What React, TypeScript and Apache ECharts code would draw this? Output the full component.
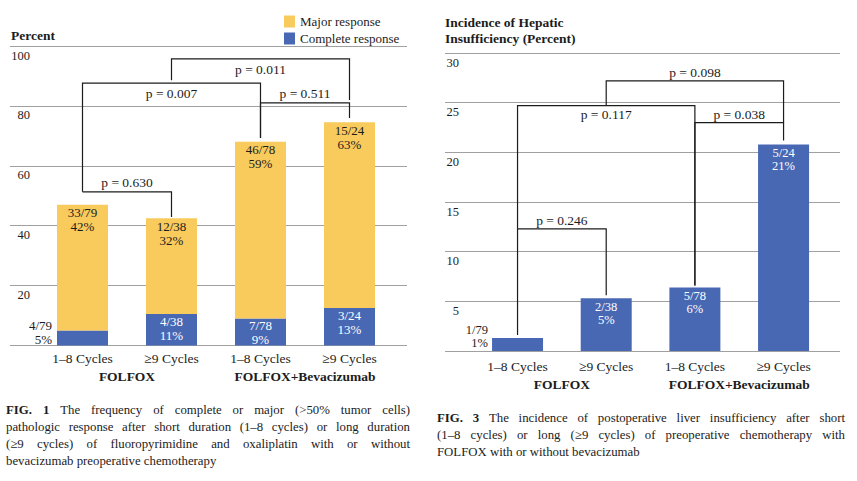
import React, { useEffect, useRef } from 'react';
import * as echarts from 'echarts';

// ---------- data ----------
const categories = ['1–8 Cycles', '≥9 Cycles', '1–8 Cycles', '≥9 Cycles'];
const groups = ['FOLFOX', 'FOLFOX+Bevacizumab'];

// FIG. 1 – pathologic response (percent)
const fig1Ticks = [0, 20, 40, 60, 80, 100];
const completeResponse = [5, 10.5, 9, 12.5];
const majorResponse = [42, 32, 59, 62];
const completeLabels = ['4/79\n5%', '4/38\n11%', '7/78\n9%', '3/24\n13%'];
const majorLabels = ['33/79\n42%', '12/38\n32%', '46/78\n59%', '15/24\n63%'];
// brackets: [fromIdx, toIdx, topValue, leftEndValue, rightEndValue, textValue]
const fig1Brackets = [
  [0, 1, 51.3, 51.3, 42.9, 54.3],
  [0, 2, 87.6, 51.3, 69.3, 84.3],
  [1, 3, 95.7, 88.6, 82.0, 92.3],
  [2, 3, 81.0, 69.3, 76.0, 84.3],
];
const fig1PValues = ['p = 0.630', 'p = 0.007', 'p = 0.011', 'p = 0.511'];

// FIG. 3 – hepatic insufficiency (percent)
const fig3Ticks = [0, 5, 10, 15, 20, 25, 30];
const hepaticInsufficiency = [1.3, 5.3, 6.4, 20.8];
const hepaticLabels = ['1/79\n1%', '2/38\n5%', '5/78\n6%', '5/24\n21%'];
const fig3Brackets = [
  [0, 1, 12.3, 1.6, 5.6, 13.1],
  [0, 2, 24.7, 12.3, 6.6, 23.8],
  [1, 3, 27.2, 24.7, 23.0, 28.0],
  [2, 3, 23.0, 6.6, 21.2, 23.8],
];
const fig3PValues = ['p = 0.246', 'p = 0.117', 'p = 0.098', 'p = 0.038'];

const fig1Caption = [
  'FIG. 1 The frequency of complete or major (>50% tumor cells)',
  'pathologic response after short duration (1–8 cycles) or long duration',
  '(≥9 cycles) of fluoropyrimidine and oxaliplatin with or without',
  'bevacizumab preoperative chemotherapy',
];
const fig3Caption = [
  'FIG. 3 The incidence of postoperative liver insufficiency after short',
  '(1–8 cycles) or long (≥9 cycles) of preoperative chemotherapy with',
  'FOLFOX with or without bevacizumab',
];

// ---------- style ----------
const SERIF = '"Liberation Serif", "Times New Roman", serif';
const YELLOW = '#F9CA5C';
const BLUE = '#4868B4';
const INK = '#1c1c1c';
const GRIDC = '#a0a0a0';

function captionElements(lines: string[], x0: number, x1: number, y0: number, step: number, fontSize: number) {
  const canvas = document.createElement('canvas');
  const ctx = canvas.getContext('2d') as CanvasRenderingContext2D;
  const els: any[] = [];
  lines.forEach((line, li) => {
    const words = line.split(' ');
    const fonts = words.map((_, wi) => (li === 0 && wi < 2 ? 'bold' : 'normal'));
    const widths = words.map((w, wi) => {
      ctx.font = `${fonts[wi]} ${fontSize}px ${SERIF}`;
      return ctx.measureText(w).width;
    });
    ctx.font = `normal ${fontSize}px ${SERIF}`;
    const spaceW = ctx.measureText(' ').width;
    const last = li === lines.length - 1;
    const total = widths.reduce((a, b) => a + b, 0);
    let gap = spaceW;
    if (!last && words.length > 1) {
      gap = Math.max(2, (x1 - x0 - total) / (words.length - 1));
    }
    let x = x0;
    words.forEach((w, wi) => {
      els.push({
        type: 'text',
        x,
        y: y0 + li * step,
        silent: true,
        style: {
          text: w,
          fontSize,
          fontFamily: SERIF,
          fontWeight: fonts[wi],
          fill: INK,
          verticalAlign: 'middle',
          textVerticalAlign: 'middle',
        },
      });
      x += widths[wi] + gap;
    });
  });
  return els;
}

function bracketRenderer(labels: string[], fontSize: number) {
  return (params: any, api: any) => {
    const from = api.value(0);
    const to = api.value(1);
    const a = api.coord([from, api.value(3)]);
    const b = api.coord([from, api.value(2)]);
    const c = api.coord([to, api.value(2)]);
    const d = api.coord([to, api.value(4)]);
    const ty = api.coord([from, api.value(5)])[1];
    return {
      type: 'group',
      children: [
        {
          type: 'polyline',
          shape: { points: [a, b, c, d] },
          style: { stroke: INK, lineWidth: 1.2, fill: 'none' },
        },
        {
          type: 'text',
          x: (b[0] + c[0]) / 2,
          y: ty,
          style: {
            text: labels[params.dataIndex],
            fontSize,
            fontFamily: SERIF,
            fill: INK,
            align: 'center',
            verticalAlign: 'middle',
            textAlign: 'center',
            textVerticalAlign: 'middle',
          },
        },
      ],
    };
  };
}

export default function App() {
  const ref = useRef<HTMLDivElement>(null);

  useEffect(() => {
    if (!ref.current) return;
    const chart = echarts.init(ref.current, undefined, { renderer: 'svg' });

    const f1min = fig1Ticks[0];
    const f1max = fig1Ticks[fig1Ticks.length - 1];
    const f1int = fig1Ticks[1] - fig1Ticks[0];
    const f3min = fig3Ticks[0];
    const f3max = fig3Ticks[fig3Ticks.length - 1];
    const f3int = fig3Ticks[1] - fig3Ticks[0];

    const tickLabel = (margin: number) => ({
      inside: true,
      margin,
      align: 'right',
      verticalAlign: 'top',
      padding: [3, 0, 0, 0],
      fontSize: 12.5,
      fontFamily: SERIF,
      color: INK,
      showMinLabel: false,
      formatter: (v: number) => (v === 0 ? '' : String(v)),
    });

    const catAxis = (gridIndex: number, data: string[], margin: number, bold: boolean, size: number) => ({
      gridIndex,
      type: 'category',
      data,
      position: 'bottom',
      axisLine: { show: false },
      axisTick: { show: false },
      splitLine: { show: false },
      axisLabel: {
        margin,
        fontSize: size,
        fontFamily: SERIF,
        fontWeight: bold ? 'bold' : 'normal',
        color: INK,
        interval: 0,
      },
    });

    const barLabelBase = (color: string, size: number, lh: number, distance: number) => ({
      show: true,
      position: 'insideTop',
      distance,
      color,
      fontSize: size,
      lineHeight: lh,
      fontFamily: SERIF,
    });

    const option: any = {
      animation: false,
      backgroundColor: '#ffffff',
      title: [
        {
          text: 'Percent',
          left: 11,
          top: 28,
          padding: 0,
          textStyle: { fontFamily: SERIF, fontSize: 13.5, fontWeight: 'bold', color: INK },
        },
        {
          text: 'Incidence of Hepatic\nInsufficiency (Percent)',
          left: 445,
          top: 15,
          padding: 0,
          textStyle: { fontFamily: SERIF, fontSize: 13.5, fontWeight: 'bold', color: INK, lineHeight: 15.5 },
        },
      ],
      legend: {
        data: ['Major response', 'Complete response'],
        orient: 'vertical',
        left: 284,
        top: 15,
        padding: 0,
        itemWidth: 11,
        itemHeight: 12,
        itemGap: 4,
        icon: 'rect',
        selectedMode: false,
        textStyle: { fontFamily: SERIF, fontSize: 13, color: INK },
      },
      grid: [
        { left: 10, top: 46, width: 397, height: 299.5 },
        { left: 38, top: 46, width: 356, height: 299.5 },
        { left: 445, top: 53, width: 395, height: 298 },
        { left: 473.2, top: 53, width: 354.7, height: 298 },
      ],
      xAxis: [
        { gridIndex: 0, type: 'value', show: false },
        catAxis(1, categories, 6, false, 13.5),
        catAxis(1, groups, 24, true, 13.5),
        { gridIndex: 2, type: 'value', show: false },
        catAxis(3, categories, 8.5, false, 13.5),
        catAxis(3, groups, 26, true, 13.5),
      ],
      yAxis: [
        {
          gridIndex: 0,
          type: 'value',
          min: f1min,
          max: f1max,
          interval: f1int,
          axisLine: { show: false },
          axisTick: { show: false },
          splitLine: { show: true, lineStyle: { color: GRIDC, width: 1 } },
          axisLabel: tickLabel(20),
        },
        { gridIndex: 1, type: 'value', min: f1min, max: f1max, interval: f1int, show: false },
        {
          gridIndex: 2,
          type: 'value',
          min: f3min,
          max: f3max,
          interval: f3int,
          axisLine: { show: false },
          axisTick: { show: false },
          splitLine: { show: true, lineStyle: { color: GRIDC, width: 1 } },
          axisLabel: tickLabel(14),
        },
        { gridIndex: 3, type: 'value', min: f3min, max: f3max, interval: f3int, show: false },
      ],
      series: [
        {
          name: 'Complete response',
          type: 'bar',
          xAxisIndex: 1,
          yAxisIndex: 1,
          stack: 'response',
          barWidth: 51,
          itemStyle: { color: BLUE },
          label: { ...barLabelBase('#ffffff', 13, 14, 0), formatter: (p: any) => completeLabels[p.dataIndex] },
          data: completeResponse.map((v, i) => ({
            value: v,
            label: i === 0 ? { position: 'left', distance: 5, offset: [0, -6], color: INK } : {},
          })),
        },
        {
          name: 'Major response',
          type: 'bar',
          xAxisIndex: 1,
          yAxisIndex: 1,
          stack: 'response',
          barWidth: 51,
          itemStyle: { color: YELLOW },
          label: { ...barLabelBase(INK, 13, 14, 1), formatter: (p: any) => majorLabels[p.dataIndex] },
          data: majorResponse,
        },
        {
          name: 'Hepatic insufficiency',
          type: 'bar',
          xAxisIndex: 4,
          yAxisIndex: 3,
          barWidth: 51,
          itemStyle: { color: BLUE },
          label: { ...barLabelBase('#ffffff', 12.5, 13.5, 1.5), formatter: (p: any) => hepaticLabels[p.dataIndex] },
          data: hepaticInsufficiency.map((v, i) => ({
            value: v,
            label: i === 0 ? { position: 'left', distance: 4, offset: [0, -8], color: INK } : {},
          })),
        },
        {
          type: 'custom',
          xAxisIndex: 1,
          yAxisIndex: 1,
          silent: true,
          clip: false,
          encode: { x: 0, y: 2 },
          renderItem: bracketRenderer(fig1PValues, 13.5),
          data: fig1Brackets,
        },
        {
          type: 'custom',
          xAxisIndex: 4,
          yAxisIndex: 3,
          silent: true,
          clip: false,
          encode: { x: 0, y: 2 },
          renderItem: bracketRenderer(fig3PValues, 13.5),
          data: fig3Brackets,
        },
      ],
      graphic: [
        ...captionElements(fig1Caption, 6, 410, 410, 17, 12.8),
        ...captionElements(fig3Caption, 437, 845, 418, 17, 12.8),
      ],
    };

    chart.setOption(option);
    return () => chart.dispose();
  }, []);

  return (
    <div
      ref={ref}
      style={{ position: 'absolute', left: 0, top: 0, width: 857, height: 481, background: '#ffffff' }}
    />
  );
}
